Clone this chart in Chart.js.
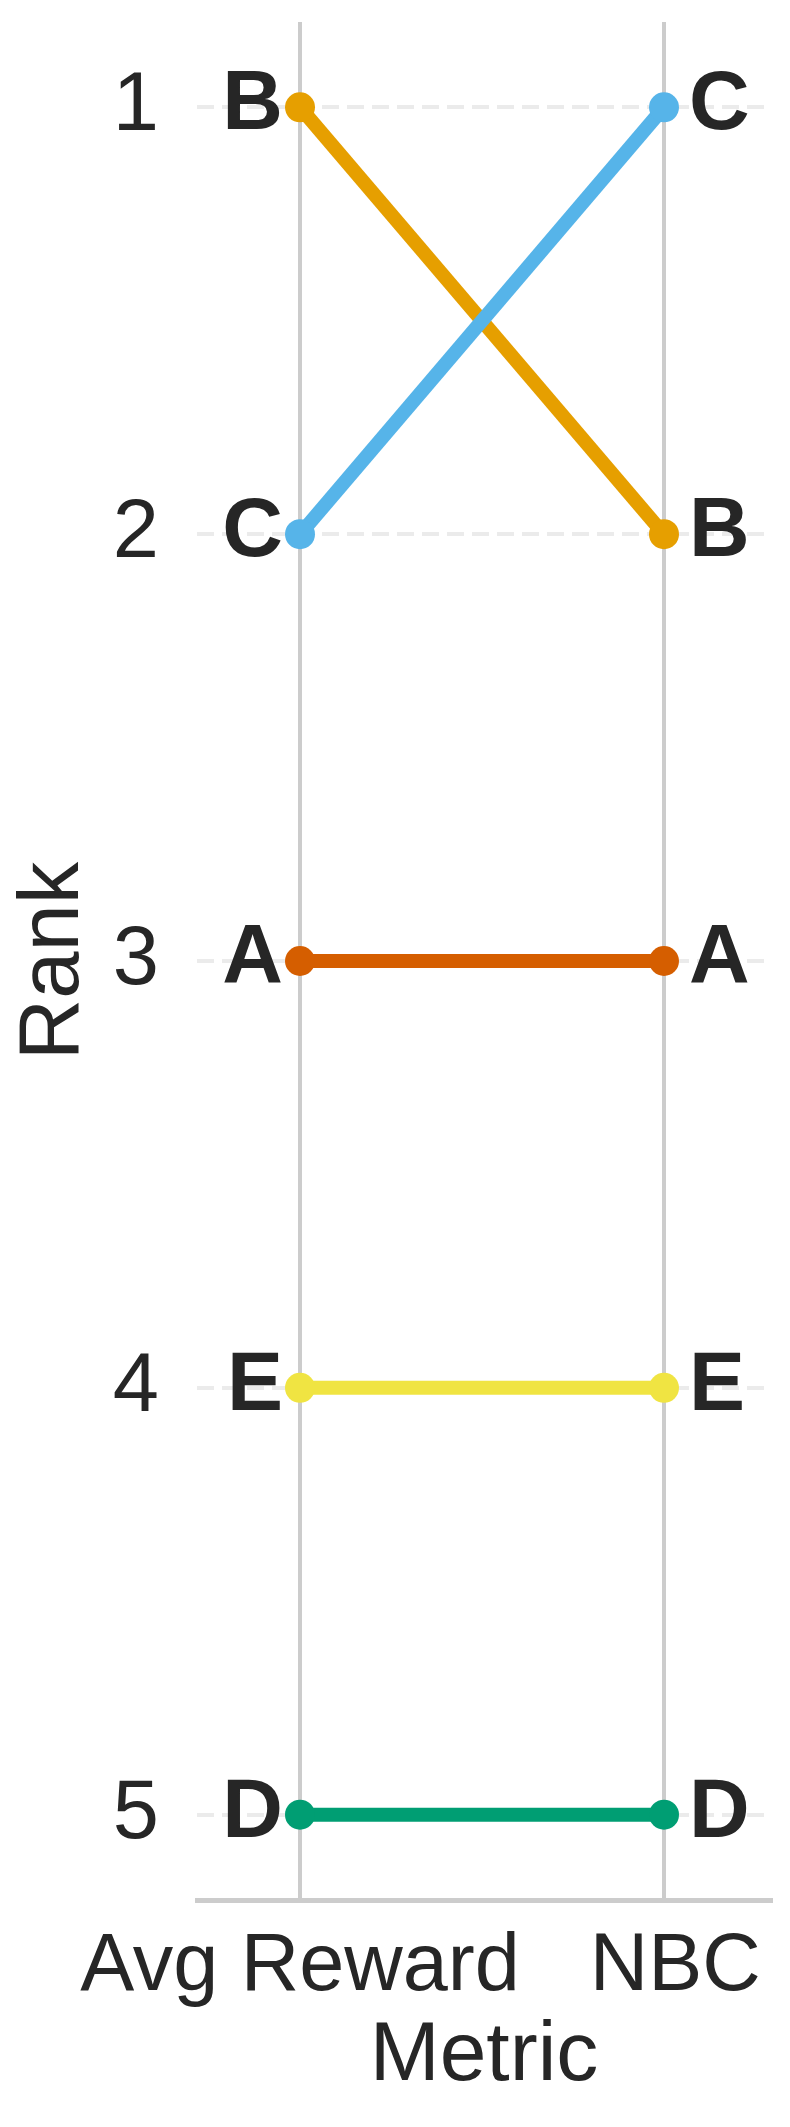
<!DOCTYPE html>
<html>
<head>
<meta charset="utf-8">
<script src="https://cdn.jsdelivr.net/npm/chart.js@4"></script>
<style>
  html, body { margin: 0; padding: 0; background: #fff; }
  #wrap { width: 790px; height: 2127px; }
</style>
</head>
<body>
<div id="wrap"><canvas id="slopeChart"></canvas></div>
<script>
// data
const metrics = ["Avg Reward", "NBC"];
const items = ["A", "B", "C", "D", "E"];
const avgRewardRank = [3, 1, 2, 5, 4];
const nbcRank = [3, 2, 1, 5, 4];
const rankTicks = [1, 2, 3, 4, 5];
const itemColors = ["#D55E00", "#E69F00", "#56B4E9", "#009E73", "#F0E442"];
const drawOrder = [3, 2, 1, 5, 4]; // lower = on top

const textColor = "#262626";
const fontFamily = "'Liberation Sans', Arial, sans-serif";

/* labels next to the points */
const endLabels = {
  id: "endLabels",
  afterDatasetsDraw(chart) {
    const ctx = chart.ctx;
    ctx.save();
    ctx.font = "bold 84px " + fontFamily;
    ctx.fillStyle = textColor;
    ctx.textBaseline = "alphabetic";
    chart.data.datasets.forEach(function (ds, i) {
      const pts = chart.getDatasetMeta(i).data;
      ctx.textAlign = "right";
      ctx.fillText(ds.label, pts[0].x - 17, pts[0].y + 22);
      ctx.textAlign = "left";
      ctx.fillText(ds.label, pts[1].x + 25, pts[1].y + 22);
    });
    ctx.restore();
  }
};

const datasets = items.map(function (name, i) {
  return {
    label: name,
    data: [
      { x: 0, y: avgRewardRank[i] },
      { x: 1, y: nbcRank[i] }
    ],
    borderColor: itemColors[i],
    backgroundColor: itemColors[i],
    borderWidth: 14,
    pointRadius: 15,
    pointHoverRadius: 15,
    pointBorderWidth: 0,
    pointBackgroundColor: itemColors[i],
    order: drawOrder[i],
  };
});

new Chart(document.getElementById("slopeChart"), {
  type: "line",
  data: { datasets: datasets },
  options: {
    responsive: true,
    maintainAspectRatio: false,
    animation: false,
    events: [],
    layout: {
      padding: { top: 22, right: 19, left: 0, bottom: 0 }
    },
    plugins: {
      legend: { display: false },
      tooltip: { enabled: false },
    },
    scales: {
      x: {
        type: "linear",
        min: -0.283,
        max: 1.294,
        afterBuildTicks(scale) {
          scale.ticks = metrics.map((m, i) => ({ value: i }));
        },
        afterFit(scale) {
          scale.height = 227;
        },
        grid: {
          color: "#cccccc",
          lineWidth: 4,
          drawTicks: false,
        },
        border: {
          display: true,
          color: "#cccccc",
          width: 5,
        },
        ticks: {
          color: textColor,
          font: { family: fontFamily, size: 81 },
          padding: 19,
          maxRotation: 0,
          autoSkip: false,
          callback(value) {
            // NBC sits a little right of its line in the original
            return value === 1 ? " " + metrics[1] : metrics[0];
          },
        },
        title: {
          display: true,
          text: "Metric",
          color: textColor,
          font: { family: fontFamily, size: 84 },
          padding: { top: 0, bottom: 20 },
        },
      },
      y: {
        type: "linear",
        reverse: true,
        min: 0.8,
        max: 5.2,
        afterBuildTicks(scale) {
          scale.ticks = rankTicks.map(v => ({ value: v }));
        },
        afterFit(scale) {
          scale.width = 197;
          scale.paddingTop = 0;
          scale.paddingBottom = 0;
        },
        grid: {
          color: "#ebebeb",
          lineWidth: 4,
          drawTicks: false,
        },
        border: {
          display: false,
          dash: [17, 8],
        },
        ticks: {
          color: textColor,
          font: { family: fontFamily, size: 83 },
          padding: 38,
        },
        title: {
          display: true,
          text: "Rank",
          color: textColor,
          font: { family: fontFamily, size: 85 },
          padding: { top: 4, bottom: 0 },
        },
      },
    },
  },
  plugins: [endLabels],
});
</script>
</body>
</html>
